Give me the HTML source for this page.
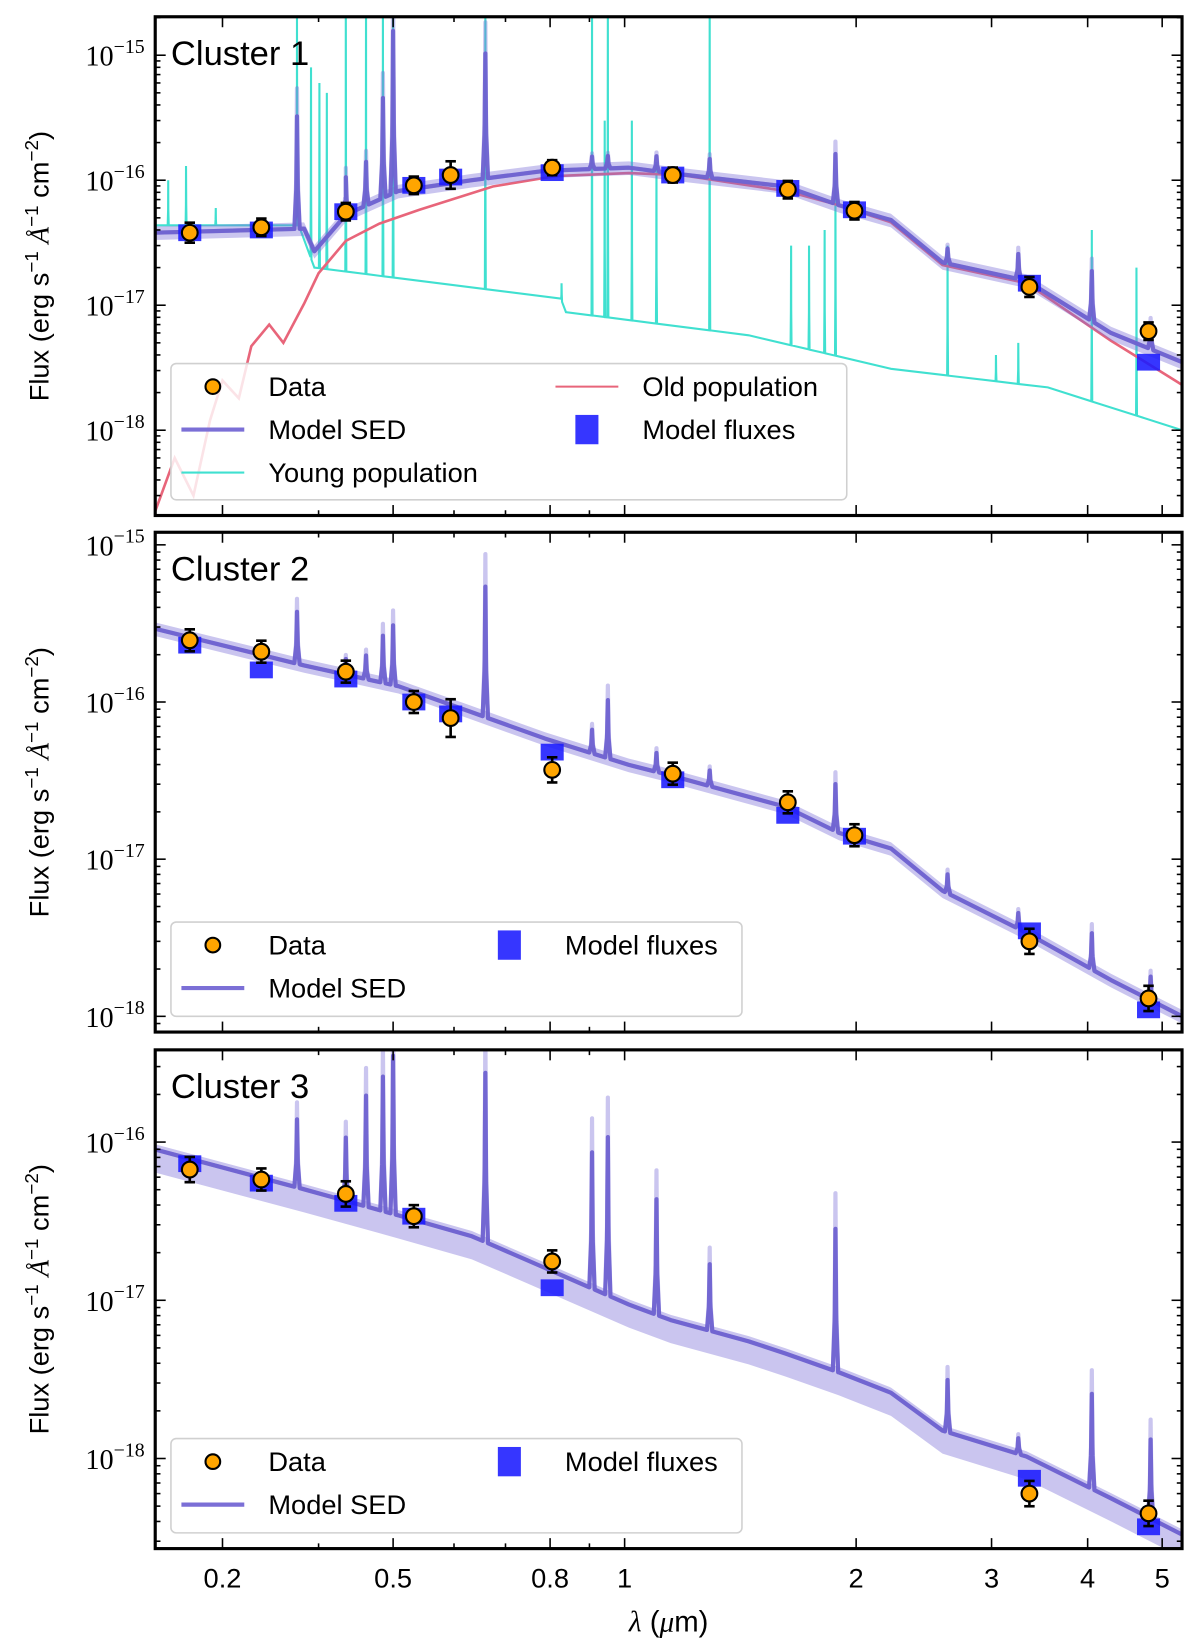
<!DOCTYPE html>
<html><head><meta charset="utf-8"><style>
html,body{margin:0;padding:0;background:#fff;}
svg{display:block;font-family:"Liberation Sans",sans-serif;}
</style></head><body>
<svg id="fig" width="1200" height="1645" viewBox="0 0 1145 1570" xmlns="http://www.w3.org/2000/svg"></svg>
<script>
// ---- data ----
const bandWl = [0.272,0.337,0.434,0.532,0.594,0.805,1.155,1.63,1.99,3.36,4.80];
const bandWl3 = [0.272,0.337,0.434,0.532,0.805,3.36,4.80];
const xTickVals = [0.3,0.5,0.8,1,2,3,4,5];
const xTickLabels = ["0.2","0.5","0.8","1","2","3","4","5"];
const xMinorVals = [0.4,0.6,0.7,0.9];

const c1Data = [3.8e-17,4.2e-17,5.6e-17,9.1e-17,1.1e-16,1.26e-16,1.1e-16,8.4e-17,5.7e-17,1.4e-17,6.2e-18];
const c1Err  = [0.08,0.07,0.07,0.07,0.11,0.06,0.06,0.07,0.07,0.08,0.07];
const c1Model= [3.8e-17,4.0e-17,5.6e-17,9.1e-17,1.06e-16,1.15e-16,1.1e-16,8.6e-17,5.8e-17,1.5e-17,3.5e-18];
const c2Data = [2.47e-16,2.09e-16,1.56e-16,1.0e-16,7.9e-17,3.7e-17,3.5e-17,2.3e-17,1.42e-17,3.0e-18,1.3e-18];
const c2Err  = [0.07,0.07,0.07,0.07,0.12,0.08,0.07,0.07,0.07,0.08,0.08];
const c2Model= [2.3e-16,1.6e-16,1.4e-16,1.0e-16,8.4e-17,4.8e-17,3.2e-17,1.9e-17,1.4e-17,3.5e-18,1.1e-18];
const c3Data = [6.7e-17,5.8e-17,4.7e-17,3.4e-17,1.76e-17,6.0e-19,4.5e-19];
const c3Err  = [0.08,0.07,0.08,0.07,0.07,0.08,0.08];
const c3Model= [7.3e-17,5.5e-17,4.1e-17,3.4e-17,1.2e-17,7.5e-19,3.7e-19];

const contWl = [0.245,0.383,0.395,0.434,0.508,0.633,0.788,1.013,1.148,1.62,1.90,2.22,2.59,3.33,4.29,5.31];
const c1Cont = [3.8e-17,4.1e-17,2.7e-17,5.3e-17,8.2e-17,1.0e-16,1.19e-16,1.26e-16,1.14e-16,8.9e-17,6.3e-17,4.8e-17,2.2e-17,1.57e-17,6.0e-18,3.5e-18];
const cont2Wl = [0.245,0.383,0.508,0.633,0.788,1.013,1.148,1.62,1.90,2.22,2.59,3.33,4.29,5.31];
const c2Cont = [2.93e-16,1.71e-16,1.26e-16,8.6e-17,5.85e-17,3.98e-17,3.41e-17,2.15e-17,1.47e-17,1.17e-17,6.3e-18,3.4e-18,1.7e-18,1.0e-18];
const cont3Wl = [0.245,0.383,0.508,0.633,0.788,1.013,1.148,1.45,1.62,1.90,2.22,2.59,3.33,4.29,5.31];
const c3Cont = [8.99e-17,5.03e-17,3.44e-17,2.54e-17,1.6e-17,9.4e-18,7.5e-18,5.5e-18,4.6e-18,3.5e-18,2.6e-18,1.5e-18,1.03e-18,5.6e-19,3.3e-19];

const lineWl = [0.375,0.434,0.461,0.485,0.50,0.659,0.907,0.951,1.10,1.29,1.88,2.63,3.25,4.05,4.83];
const c1LineDex = [0.9,0.3,0.35,0.8,1.3,1.0,0.1,0.1,0.12,0.15,0.4,0.12,0.2,0.4,0.2];
const c2LineDex = [0.33,0.1,0.15,0.3,0.38,0.83,0.15,0.37,0.12,0.1,0.3,0.12,0.1,0.23,0.15];
const c3LineDex = [0.43,0.4,0.7,0.85,1.0,1.07,0.86,1.0,0.73,0.42,0.9,0.33,0.1,0.6,0.5];

const youngWl = [0.245,0.377,0.395,0.826,0.839,1.45,2.22,3.55,5.31];
const youngFlux = [4.36e-17,4.36e-17,2.0e-17,1.13e-17,8.8e-18,5.75e-18,3.1e-18,2.2e-18,1.0e-18];
const youngLineWl = [0.255,0.269,0.294,0.375,0.391,0.401,0.41,0.434,0.461,0.485,0.50,0.659,0.828,0.907,0.942,0.951,1.022,1.10,1.29,1.646,1.737,1.82,1.88,2.63,3.04,3.25,4.05,4.63];
const youngLinePeak = [1e-16,1.3e-16,6e-17,2e-15,8e-16,6e-16,5e-16,3e-15,3e-15,3e-15,3e-15,3e-15,1.5e-17,3e-15,3e-16,3e-15,3e-16,1.4e-16,3e-15,3e-17,3e-17,4e-17,1e-16,3e-17,4e-18,5e-18,4e-17,2e-17];

const oldWl = [0.245,0.26,0.275,0.289,0.30,0.315,0.327,0.345,0.36,0.383,0.40,0.434,0.48,0.541,0.674,0.813,1.013,1.185,1.62,1.90,2.22,2.59,3.33,4.29,5.31];
const oldFlux = [2.2e-19,6e-19,3e-19,1.2e-18,2.5e-18,1.8e-18,4.7e-18,7e-18,5e-18,1.03e-17,1.8e-17,3.27e-17,4.5e-17,5.8e-17,8.9e-17,1.08e-16,1.14e-16,1.1e-16,8.2e-17,6.3e-17,4.6e-17,2.1e-17,1.5e-17,5.2e-18,2.3e-18];

// ---- layout ----
const NS="http://www.w3.org/2000/svg";
const svg=document.getElementById('fig');
const L=148,R=1128;
const X=l=>596+734*Math.log10(l);
function el(tag,attrs,parent){const e=document.createElementNS(NS,tag);for(const k in attrs)e.setAttribute(k,attrs[k]);(parent||svg).appendChild(e);return e;}
function interp(wl,fl,l){for(let i=0;i<wl.length-1;i++){if(l>=wl[i]&&l<=wl[i+1]){const t=(Math.log10(l)-Math.log10(wl[i]))/(Math.log10(wl[i+1])-Math.log10(wl[i]));return Math.pow(10,Math.log10(fl[i])+t*(Math.log10(fl[i+1])-Math.log10(fl[i])));}}return fl[fl.length-1];}
function specPts(wl,fl,lw,peaks,dexMode,width,boost){
  let pts=wl.map((l,i)=>[l,fl[i]]);
  lw.forEach((l,i)=>{const c=interp(wl,fl,l);const p=dexMode?c*Math.pow(10,peaks[i]*(boost||1)):peaks[i];const d=width*l;
    pts.push([l-d,interp(wl,fl,l-d)],[l-d*0.3,c*Math.pow(p/c,0.35)],[l,p],[l+d*0.3,c*Math.pow(p/c,0.35)],[l+d,interp(wl,fl,l+d)]);});
  pts.sort((a,b)=>a[0]-b[0]);return pts;}
function pathFrom(pts,Y,shift){return pts.map((p,i)=>(i?'L':'M')+X(p[0]).toFixed(1)+','+(Y(p[1])+(shift||0)).toFixed(1)).join(' ');}

const panels=[
 {top:16,bot:492,y0:172,per:119.3,ticks:[-15,-16,-17,-18],label:"Cluster 1",up:6,dn:7},
 {top:508,bot:985,y0:670,per:150,ticks:[-15,-16,-17,-18],label:"Cluster 2",up:6,dn:7},
 {top:1002,bot:1478,y0:1090,per:151,ticks:[-16,-17,-18],label:"Cluster 3",up:5,dn:22}];

panels.forEach((P,pi)=>{
  const Y=f=>P.y0-P.per*(Math.log10(f)+16);
  const g=el('g',{});
  
  
  const cid='clip'+pi;
  const cp=el('clipPath',{id:cid},g);el('rect',{x:L,y:P.top,width:R-L,height:P.bot-P.top},cp);
  const plot=el('g',{'clip-path':'url(#'+cid+')'},g);
  const cont = pi===0?[contWl,c1Cont,c1LineDex]:pi===1?[cont2Wl,c2Cont,c2LineDex]:[cont3Wl,c3Cont,c3LineDex];
  const mpts=specPts(cont[0],cont[1],lineWl,cont[2],true,0.008);
  const lpts=specPts(cont[0],cont[1],lineWl,cont[2],true,0.008,1.25);
  if(pi===0){
    const yo=el('path',{d:pathFrom(specPts(youngWl,youngFlux,youngLineWl,youngLinePeak,false,0.0015),Y),fill:'none',stroke:'#40e0d0','stroke-width':2},plot);
    
    
    const od=el('path',{d:pathFrom(oldWl.map((l,i)=>[l,oldFlux[i]]),Y),fill:'none',stroke:'#e8657a','stroke-width':2.5},plot);
    
    
  }
  // band polygon
  const cw=cont[0],cf=cont[1];
  let up=cw.map((l,i)=>X(l).toFixed(1)+','+(Y(cf[i])-P.up).toFixed(1));
  let dn=cw.slice().reverse().map((l,j)=>{const i=cw.length-1-j;return X(l).toFixed(1)+','+(Y(cf[i])+P.dn).toFixed(1);});
  const band=el('polygon',{points:up.concat(dn).join(' '),fill:'#7b6fd6','fill-opacity':0.4},plot);
  
  
  const lb=el('path',{d:pathFrom(lpts,Y),fill:'none',stroke:'#7b6fd6','stroke-opacity':0.4,'stroke-width':4,'stroke-linejoin':'round'},plot);
  
  
  const ml=el('path',{d:pathFrom(mpts,Y),fill:'none',stroke:'#6e62d0','stroke-opacity':0.95,'stroke-width':4,'stroke-linejoin':'round'},plot);
  
  
  // model fluxes + data
  const wl=pi===2?bandWl3:bandWl;
  const dat=[c1Data,c2Data,c3Data][pi], err=[c1Err,c2Err,c3Err][pi], mod=[c1Model,c2Model,c3Model][pi];
  wl.forEach((l,i)=>{
    const r=el('rect',{x:X(l)-11,y:Y(mod[i])-8,width:22,height:16,fill:'#1a1aff','fill-opacity':0.88},plot);
    
    
  });
  wl.forEach((l,i)=>{
    const x=X(l),y=Y(dat[i]),yt=Y(dat[i]*Math.pow(10,err[i])),yb=Y(dat[i]/Math.pow(10,err[i]));
    const eg=el('g',{},plot);
    
    
    el('line',{x1:x,x2:x,y1:yt,y2:yb,stroke:'#000','stroke-width':2.5},eg);
    el('line',{x1:x-5,x2:x+5,y1:yt,y2:yt,stroke:'#000','stroke-width':2.5},eg);
    el('line',{x1:x-5,x2:x+5,y1:yb,y2:yb,stroke:'#000','stroke-width':2.5},eg);
    el('circle',{cx:x,cy:y,r:7.5,fill:'#ffa500',stroke:'#000','stroke-width':2},eg);
  });
  // ticks
  const tk=el('g',{stroke:'#000','stroke-width':1.5},g);
  xTickVals.forEach(v=>{const x=X(v);el('line',{x1:x,x2:x,y1:P.bot,y2:P.bot-10},tk);el('line',{x1:x,x2:x,y1:P.top,y2:P.top+10},tk);});
  xMinorVals.forEach(v=>{const x=X(v);el('line',{x1:x,x2:x,y1:P.bot,y2:P.bot-5},tk);el('line',{x1:x,x2:x,y1:P.top,y2:P.top+5},tk);});
  for(let d=-19;d<=-14;d++){for(let m=1;m<10;m++){const y=Y(m*Math.pow(10,d));if(y<P.top||y>P.bot)continue;const len=m===1?10:5;
    el('line',{x1:L,x2:L+len,y1:y,y2:y},tk);el('line',{x1:R,x2:R-len,y1:y,y2:y},tk);}}
  P.ticks.forEach(d=>{const y=Y(Math.pow(10,d));
    const t=el('text',{x:138,y:y+10,'text-anchor':'end','font-size':27,'font-family':'Liberation Serif, serif'},g);
    
    
    t.appendChild(document.createTextNode('10'));
    const s=el('tspan',{dy:-12,'font-size':19},t);s.textContent='\u2212'+(-d);});
  // legend
  const lg=el('g',{},g);
  
  
  const lh=pi===0?130:90, lw=pi===0?645:545, ly=pi===0?347:(P.bot-105);
  el('rect',{x:163,y:ly,width:lw,height:lh,rx:5,fill:'#fff','fill-opacity':0.82,stroke:'#d0d0d0','stroke-width':1.5},lg);
  const r1=ly+22,r2=ly+63,r3=ly+104;
  el('circle',{cx:203,cy:r1,r:7,fill:'#ffa500',stroke:'#000','stroke-width':2},lg);
  el('line',{x1:173,x2:233,y1:r2,y2:r2,stroke:'#7b6fd6','stroke-width':4},lg);
  const txt=(x,y,s)=>{const t=el('text',{x:x,y:y+9,'font-size':26},lg);t.textContent=s;};
  txt(256,r1,'Data');txt(256,r2,'Model SED');
  if(pi===0){
    el('line',{x1:173,x2:233,y1:r3,y2:r3,stroke:'#40e0d0','stroke-width':2},lg);txt(256,r3,'Young population');
    el('line',{x1:530,x2:590,y1:r1,y2:r1,stroke:'#e8657a','stroke-width':2},lg);txt(613,r1,'Old population');
    el('rect',{x:549,y:r2-14,width:22,height:28,fill:'#1a1aff','fill-opacity':0.88},lg);txt(613,r2,'Model fluxes');
  } else {
    el('rect',{x:475,y:r1-14,width:22,height:28,fill:'#1a1aff','fill-opacity':0.88},lg);txt(539,r1,'Model fluxes');
  }
  const ti=el('text',{x:163,y:P.top+46,'font-size':33},g);ti.textContent=P.label;
  
  
  el('rect',{x:L,y:P.top,width:R-L,height:P.bot-P.top,fill:'none',stroke:'#000','stroke-width':3},g);
  const yt=el('text',{transform:'translate(46,'+((P.top+P.bot)/2)+') rotate(-90)','text-anchor':'middle','font-size':26},g);
  
  
  yt.innerHTML='Flux (erg s<tspan dy="-10" font-size="18">\u22121</tspan><tspan dy="10"> </tspan><tspan font-family="Liberation Serif, serif" font-style="italic">\u00C5</tspan><tspan dy="-10" font-size="18">\u22121</tspan><tspan dy="10"> cm</tspan><tspan dy="-10" font-size="18">\u22122</tspan><tspan dy="10">)</tspan>';
});
xTickVals.forEach((v,i)=>{const t=el('text',{x:X(v),y:1515,'text-anchor':'middle','font-size':26});t.textContent=xTickLabels[i];
  
  });
const xt=el('text',{x:638,y:1557,'text-anchor':'middle','font-size':28});


xt.innerHTML='<tspan font-family="Liberation Serif, serif" font-style="italic">\u03BB</tspan> (<tspan font-family="Liberation Serif, serif" font-style="italic">\u03BC</tspan>m)';
</script>
</body></html>
